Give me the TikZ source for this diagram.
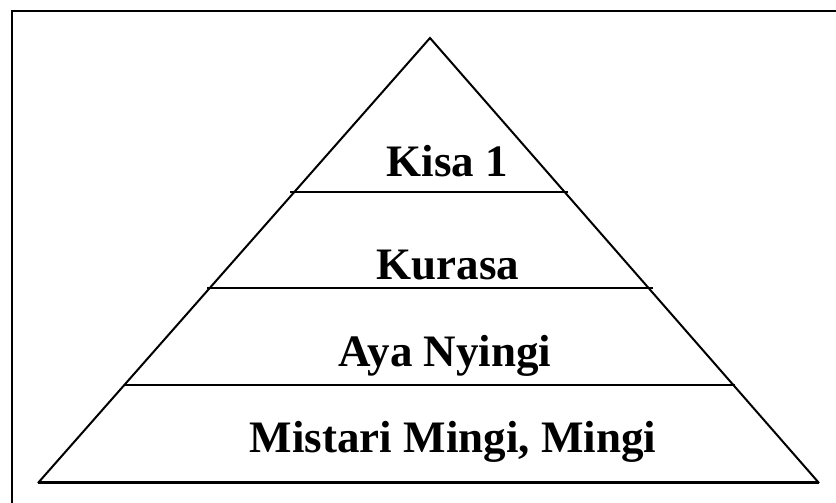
\documentclass[tikz,border=0pt]{standalone}
\usepackage{fontspec}
\setmainfont{Liberation Serif}
\begin{document}
\begin{tikzpicture}[x=1pt,y=1pt,
  lbl/.style={anchor=base,font=\fontsize{45}{50}\selectfont\bfseries,inner sep=0pt},
  side/.style={line width=2pt,line join=miter},
  tier/.style={line width=1.8pt}]
\useasboundingbox (0,0) rectangle (836,503);
% frame (top and left)
\coordinate (f1) at (12,0);
\coordinate (f2) at (12,492);
\coordinate (f3) at (836,492);
\draw[line width=2.5pt] (f1) -- (f2) -- (f3);
% pyramid
\coordinate (apex) at (430,465);
\coordinate (bl) at (38,20);
\coordinate (br) at (819,20);
\draw[side] (bl) -- (apex) -- (br);
\draw[line width=3pt] (bl) -- (br);
% tiers
\coordinate (t1l) at (290,311); \coordinate (t1r) at (568,311);
\coordinate (t2l) at (207,215); \coordinate (t2r) at (653,215);
\coordinate (t3l) at (124,118); \coordinate (t3r) at (735,118);
\draw[tier] (t1l) -- (t1r);
\draw[tier] (t2l) -- (t2r);
\draw[tier] (t3l) -- (t3r);
% labels
\node[lbl] (k1) at (447.5,326) {Kisa 1};
\node[lbl] (ku) at (448,223) {Kurasa};
\node[lbl] (ay) at (445,136) {Aya Nyingi};
\node[lbl] (mi) at (453,50) {Mistari Mingi, Mingi};
\end{tikzpicture}
\end{document}
